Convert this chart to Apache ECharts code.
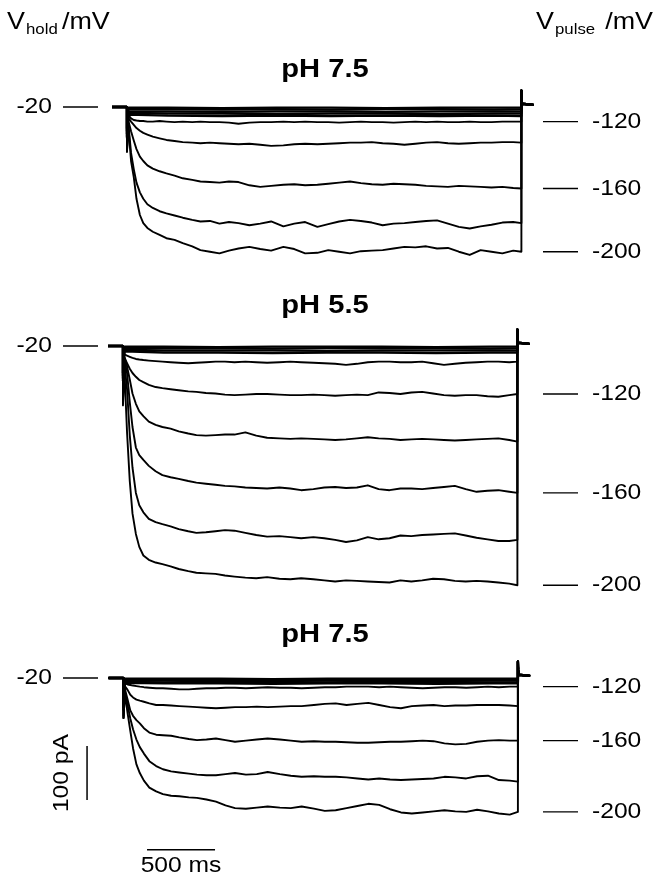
<!DOCTYPE html>
<html><head><meta charset="utf-8">
<script src="https://cdn.jsdelivr.net/npm/echarts/dist/echarts.min.js"></script>
<style>html,body{margin:0;padding:0;background:#fff}#c{width:660px;height:885px}</style>
</head><body><div id="c"></div>
<script>
// ---- time axes (ms) ----
const holdStart = -110;
const holdCurrent = 0;
const pulseTimes = [0,10,30,50,70,95,120,150,190,240,290,350,410,480,540,610,680,750,820,900,980,1060,1150,1230,1310,1400,1480,1560,1640,1720,1800,1880,1960,2040,2120,2200,2280,2360,2440,2520,2600,2680,2760,2840,2900];
const bandTimes = [0,10,300,700,1100,1500,1900,2300,2700,2900];
const tailTimes = [2900,2902,2905,2915,2990];
const tailCurrents = [31,15,6,4,4];

// ---- panel titles and labels ----
const panelTitles = ['pH 7.5','pH 5.5','pH 7.5'];
const holdLabel = '-20';
const pulseLabels = ['-120','-160','-200'];
const scaleBarPA = 100;
const scaleBarMS = 500;

// ---- Panel 1 (pH 7.5), currents in pA ----
const p1_m20  = [-40,-1,-1,-2,-1,-1,-2,-1,-1,-1];
const p1_m40  = [-45,-4,-4,-5,-4,-5,-4,-4,-5,-4];
const p1_m60  = [-50,-8,-8,-9,-8,-8,-9,-8,-8,-8];
const p1_m80  = [-55,-11,-12,-12,-13,-12,-12,-13,-12,-12];
const p1_m100 = [-58,-14,-16,-17,-16,-17,-16,-17,-16,-17];
const p1_m120 = [-60,-15,-21,-24,-25,-26,-26,-27,-27,-26,-27,-28,-27,-28,-27,-28,-28,-29,-31,-29,-28,-28,-27,-28,-27,-28,-28,-29,-28,-27,-28,-28,-29,-28,-27,-28,-27,-28,-28,-27,-28,-28,-27,-27,-27];
const p1_m140 = [-70,-20,-27,-33,-39,-44,-48,-51,-55,-58,-61,-63,-65,-66,-67,-66,-67,-68,-69,-68,-70,-72,-71,-69,-68,-69,-68,-67,-66,-66,-65,-67,-68,-70,-68,-66,-65,-67,-68,-67,-66,-66,-65,-65,-66];
const p1_m160 = [-80,-25,-45,-62,-78,-92,-100,-108,-114,-119,-123,-127,-132,-135,-138,-139,-140,-138,-139,-145,-148,-146,-144,-143,-145,-144,-142,-140,-138,-141,-143,-144,-142,-143,-144,-146,-147,-148,-146,-147,-148,-149,-148,-150,-151];
const p1_m180 = [-83,-30,-85,-115,-140,-158,-170,-180,-187,-193,-197,-201,-205,-209,-212,-211,-216,-213,-215,-219,-216,-212,-221,-216,-213,-222,-217,-212,-209,-211,-214,-219,-216,-215,-213,-211,-210,-216,-222,-225,-221,-218,-214,-213,-215];
const p1_m200 = [-83,-35,-100,-130,-170,-200,-215,-224,-231,-237,-243,-246,-252,-258,-265,-268,-271,-266,-262,-259,-263,-266,-259,-263,-271,-270,-265,-268,-271,-267,-266,-265,-262,-259,-260,-258,-262,-261,-268,-274,-265,-268,-271,-266,-268];

// ---- Panel 2 (pH 5.5) ----
const p2_m20  = [-50,-1,-1,-2,-1,-1,-1,-2,-1,-1];
const p2_m40  = [-55,-4,-4,-4,-5,-4,-4,-4,-5,-4];
const p2_m60  = [-60,-7,-8,-8,-8,-9,-8,-8,-8,-8];
const p2_m80  = [-65,-10,-12,-12,-13,-12,-12,-13,-12,-12];
const p2_m100 = [-60,-15,-18,-20,-22,-24,-25,-26,-27,-28,-29,-30,-31,-32,-31,-30,-29,-29,-30,-29,-30,-31,-30,-29,-30,-31,-32,-33,-35,-33,-30,-29,-29,-30,-30,-29,-32,-35,-33,-31,-30,-29,-29,-30,-29];
const p2_m120 = [-80,-20,-32,-42,-50,-57,-63,-67,-72,-76,-78,-80,-82,-84,-85,-87,-88,-90,-91,-90,-89,-89,-90,-91,-91,-90,-91,-92,-91,-90,-91,-86,-87,-89,-86,-85,-88,-91,-92,-91,-91,-93,-94,-91,-89];
const p2_m140 = [-90,-22,-38,-62,-88,-107,-121,-130,-140,-146,-150,-153,-158,-162,-165,-166,-165,-164,-164,-160,-166,-170,-171,-172,-171,-172,-173,-174,-173,-171,-169,-171,-172,-174,-173,-172,-173,-174,-175,-174,-173,-172,-171,-174,-177];
const p2_m160 = [-100,-25,-50,-104,-150,-188,-202,-211,-222,-232,-239,-243,-246,-250,-253,-255,-257,-259,-260,-262,-263,-264,-262,-264,-267,-265,-262,-261,-263,-262,-258,-265,-267,-264,-264,-265,-263,-261,-259,-265,-270,-268,-267,-270,-272];
const p2_m180 = [-100,-30,-80,-165,-225,-272,-295,-308,-320,-326,-330,-334,-339,-343,-346,-345,-343,-341,-342,-346,-350,-353,-352,-354,-356,-354,-356,-359,-363,-360,-354,-358,-356,-351,-352,-350,-349,-348,-347,-351,-355,-358,-361,-361,-359];
const p2_m200 = [-110,-40,-160,-250,-310,-348,-372,-388,-396,-401,-404,-408,-413,-417,-420,-421,-422,-425,-427,-429,-430,-428,-431,-432,-430,-432,-434,-436,-434,-435,-436,-437,-438,-434,-436,-434,-431,-432,-435,-436,-435,-436,-438,-440,-443];

// ---- Panel 3 (pH 7.5, washout) ----
const p3_m20  = [-40,-1,-1,-1,-2,-1,-1,-1,-1,-1];
const p3_m40  = [-45,-3,-3,-3,-3,-4,-3,-3,-3,-3];
const p3_m60  = [-50,-5,-5,-6,-5,-5,-6,-5,-5,-5];
const p3_m80  = [-55,-7,-8,-8,-7,-8,-8,-7,-8,-8];
const p3_m100 = [-60,-9,-10,-10,-11,-10,-10,-11,-10,-10];
const p3_m120 = [-50,-10,-12,-13,-14,-15,-16,-17,-18,-19,-19,-20,-21,-21,-20,-19,-19,-18,-18,-19,-18,-17,-18,-18,-19,-18,-17,-17,-16,-16,-16,-17,-16,-17,-18,-19,-18,-17,-17,-18,-17,-16,-17,-16,-16];
const p3_m140 = [-70,-15,-22,-31,-36,-40,-42,-44,-47,-50,-50,-51,-52,-53,-54,-55,-56,-55,-54,-54,-53,-54,-53,-52,-52,-50,-48,-47,-50,-48,-46,-50,-54,-56,-52,-51,-50,-52,-51,-51,-50,-50,-50,-51,-52];
const p3_m160 = [-74,-20,-40,-60,-70,-78,-84,-93,-101,-105,-106,-107,-110,-113,-115,-114,-112,-115,-118,-116,-114,-112,-114,-116,-118,-117,-118,-118,-119,-120,-120,-119,-118,-118,-117,-116,-117,-121,-123,-122,-118,-116,-115,-116,-116];
const p3_m180 = [-74,-25,-50,-75,-95,-114,-128,-140,-154,-163,-169,-173,-175,-177,-179,-180,-180,-178,-176,-179,-178,-174,-178,-181,-183,-182,-183,-183,-184,-186,-188,-186,-188,-189,-188,-187,-186,-183,-184,-186,-182,-181,-189,-190,-192];
const p3_m200 = [-74,-30,-65,-98,-130,-160,-176,-190,-203,-210,-215,-218,-219,-221,-222,-225,-229,-236,-241,-242,-240,-238,-240,-241,-238,-242,-246,-245,-241,-237,-233,-235,-243,-249,-251,-249,-247,-245,-247,-248,-244,-247,-251,-253,-248];

// ---- assemble ----
const panels = [
  {band:[p1_m20,p1_m40,p1_m60,p1_m80,p1_m100], main:[p1_m120,p1_m140,p1_m160,p1_m180,p1_m200], labelled:[p1_m120,p1_m160,p1_m200]},
  {band:[p2_m20,p2_m40,p2_m60,p2_m80], main:[p2_m100,p2_m120,p2_m140,p2_m160,p2_m180,p2_m200], labelled:[p2_m120,p2_m160,p2_m200]},
  {band:[p3_m20,p3_m40,p3_m60,p3_m80,p3_m100], main:[p3_m120,p3_m140,p3_m160,p3_m180,p3_m200], labelled:[p3_m120,p3_m160,p3_m200]}
];

const grids = [
  {left:112, top:80, width:423, height:189},
  {left:108, top:319, width:423, height:286.2},
  {left:82.7, top:651, width:448.8, height:216}
];
const xRanges = [[-110,3000],[-110,3000],[-300,3000]];
const yRanges = [[-300,50],[-480,50],[-350,50]];

function traceData(times, vals){
  const d = [[holdStart,holdCurrent],[0,holdCurrent]];
  const n = Math.min(times.length, vals.length);
  for (let i=0;i<n;i++) d.push([times[i], vals[i]]);
  for (let i=0;i<tailTimes.length;i++) d.push([tailTimes[i], tailCurrents[i]]);
  return d;
}

const series = [];
panels.forEach((p, gi) => {
  p.band.forEach(v => series.push({type:'line', xAxisIndex:gi, yAxisIndex:gi, data:traceData(bandTimes, v), showSymbol:false, lineStyle:{color:'#000', width:2.3}, silent:true, clip:false}));
  p.main.forEach(v => series.push({type:'line', xAxisIndex:gi, yAxisIndex:gi, data:traceData(pulseTimes, v), showSymbol:false, lineStyle:{color:'#000', width:1.9, join:'round'}, silent:true, clip:false}));
});
// scale bars in panel 3 coordinates
const barX = -268, barTop = -126;
const hBarY = -318, hBarStart = 173;
series.push({type:'line', xAxisIndex:2, yAxisIndex:2, data:[[barX,barTop],[barX,barTop-scaleBarPA]], showSymbol:false, lineStyle:{color:'#000',width:1.5}, silent:true, clip:false});
series.push({type:'line', xAxisIndex:2, yAxisIndex:2, data:[[hBarStart,hBarY],[hBarStart+scaleBarMS,hBarY]], showSymbol:false, lineStyle:{color:'#000',width:1.5}, silent:true, clip:false});

const chart = echarts.init(document.getElementById('c'));
chart.setOption({
  animation:false,
  backgroundColor:'#fff',
  grid: grids.map(g => Object.assign({containLabel:false, show:false}, g)),
  xAxis: xRanges.map((r,i) => ({type:'value', gridIndex:i, min:r[0], max:r[1], show:false})),
  yAxis: yRanges.map((r,i) => ({type:'value', gridIndex:i, min:r[0], max:r[1], show:false})),
  series
});

// ---- text annotations ----
const FONT = '"Liberation Sans", Arial, sans-serif';
const SX = 1.12;
function txt(x, y, s, size, opts){
  opts = opts || {};
  return {type:'text', x, y, scaleX: opts.sx || SX, rotation: opts.rot || 0,
    style:{text:s, font:(opts.bold?'bold ':'')+size+'px '+FONT, fill:'#000',
      textAlign: opts.align || 'left', textVerticalAlign: opts.valign || 'middle'}};
}
function hline(x1, x2, y){
  return {type:'line', shape:{x1, y1:y, x2, y2:y}, style:{stroke:'#000', lineWidth:1.4}};
}
const titleY = [70, 306, 635];
const graphic = [];
// header
graphic.push(txt(7, 22, 'V', 24));
graphic.push(txt(26, 30, 'hold', 15));
graphic.push(txt(62, 22, '/mV', 24));
graphic.push(txt(536, 22, 'V', 24));
graphic.push(txt(555, 30, 'pulse', 15));
graphic.push(txt(653, 22, '/mV', 24, {align:'right'}));
panels.forEach((p, gi) => {
  graphic.push(txt(325, titleY[gi], panelTitles[gi], 26, {bold:true, align:'center'}));
  const y0 = chart.convertToPixel({gridIndex:gi}, [0, holdCurrent])[1];
  graphic.push(txt(52, y0, holdLabel, 22, {align:'right'}));
  graphic.push(hline(63, 98, y0));
  p.labelled.forEach((v, k) => {
    const y = chart.convertToPixel({gridIndex:gi}, [pulseTimes[pulseTimes.length-1], v[v.length-1]])[1];
    graphic.push(hline(543, 578, y));
    graphic.push(txt(592, y, pulseLabels[k], 22));
  });
});
const vb = chart.convertToPixel({gridIndex:2}, [barX, barTop - scaleBarPA/2]);
graphic.push(txt(vb[0]-25, vb[1], scaleBarPA + ' pA', 22, {align:'center', rot:Math.PI/2}));
const hb = chart.convertToPixel({gridIndex:2}, [hBarStart + scaleBarMS/2, hBarY]);
graphic.push(txt(hb[0], hb[1]+16, scaleBarMS + ' ms', 22, {align:'center'}));
chart.setOption({graphic});
</script>
</body></html>
